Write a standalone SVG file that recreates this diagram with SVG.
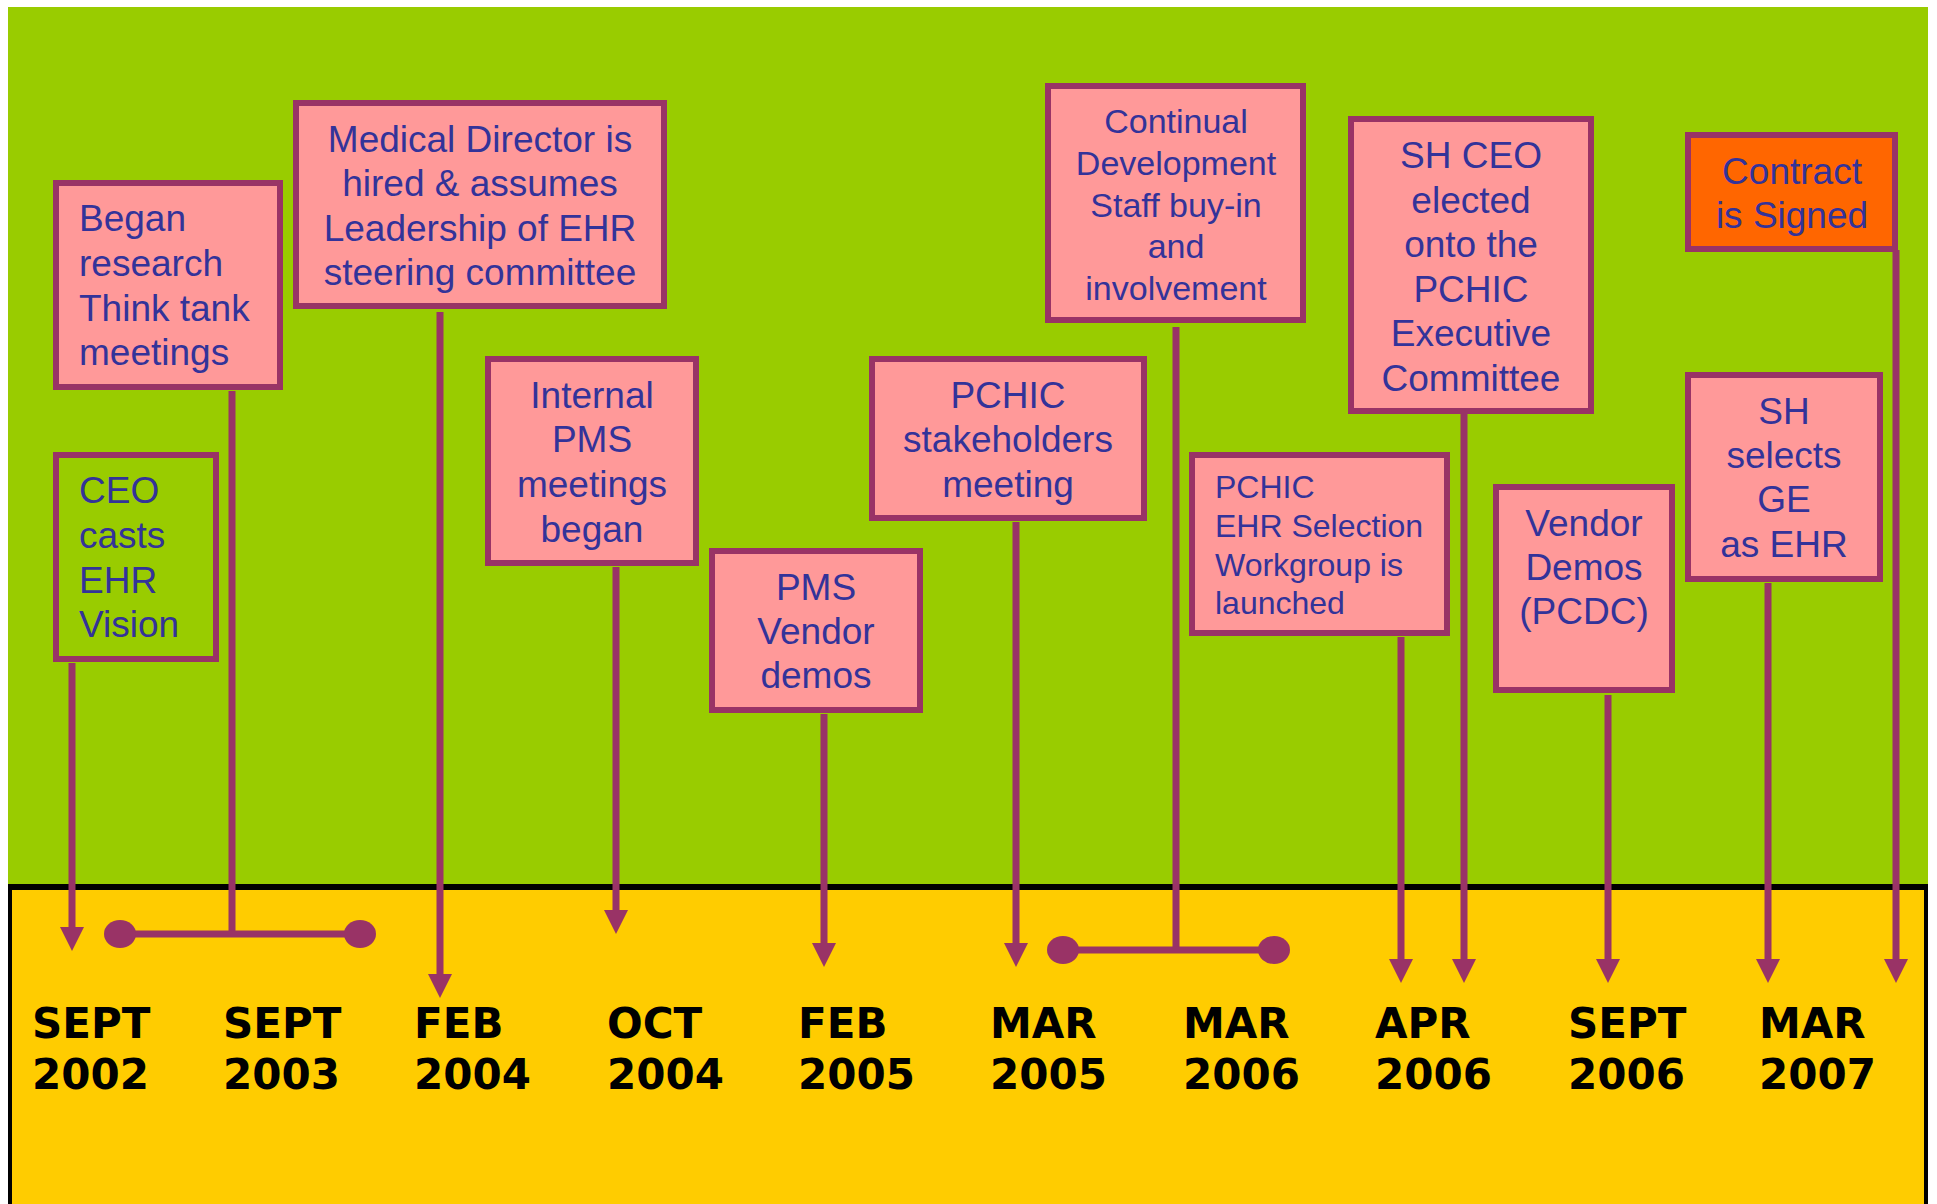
<svg xmlns="http://www.w3.org/2000/svg" width="1937" height="1204" viewBox="0 0 1937 1204">
<defs>
<style>
.box{fill:#FF9999;stroke:#993366;stroke-width:6}
.boxg{fill:none;stroke:#993366;stroke-width:6}
.boxo{fill:#FF6600;stroke:#993366;stroke-width:6}
.t{font-family:"Liberation Sans",Arial,sans-serif;font-size:37px;fill:#333399}
.c{text-anchor:middle}
.s34{font-size:34px}
.s32{font-size:32px}
.ln{stroke:#993366;stroke-width:7;fill:none}
.arr{stroke:#993366;stroke-width:7;fill:none;marker-end:url(#ah)}
.dot{fill:#993366}
.d{font-family:"DejaVu Sans",Verdana,sans-serif;font-weight:bold;font-size:42px;fill:#000}
</style>
<marker id="ah" markerUnits="userSpaceOnUse" markerWidth="24" markerHeight="24" refX="0" refY="12" orient="auto">
<path d="M0,0 L24,12 L0,24 z" fill="#993366"/>
</marker>
</defs>
<rect x="0" y="0" width="1937" height="1204" fill="#FFFFFF"/>
<rect x="8" y="7" width="1920" height="880" fill="#99CC00"/>
<rect x="8" y="887" width="1920" height="317" fill="#FFCC00"/>
<g id="frame" stroke="#000" fill="none">
<line x1="8" y1="887" x2="1928" y2="887" stroke-width="6"/>
<line x1="10" y1="887" x2="10" y2="1204" stroke-width="4"/>
<line x1="1926" y1="887" x2="1926" y2="1204" stroke-width="4"/>
</g>

<g id="connectors">
<path class="arr" d="M72,663 V927"/>
<path class="ln" d="M232,391 V934"/>
<path class="ln" d="M120,934 H360"/>
<ellipse class="dot" cx="120" cy="934" rx="16" ry="14"/>
<ellipse class="dot" cx="360" cy="934" rx="16" ry="14"/>
<path class="arr" d="M440,312 V974"/>
<path class="arr" d="M616,567 V910"/>
<path class="arr" d="M824,714 V943"/>
<path class="arr" d="M1016,522 V943"/>
<path class="ln" d="M1176,327 V950"/>
<path class="ln" d="M1063,950 H1274"/>
<ellipse class="dot" cx="1063" cy="950" rx="16" ry="14"/>
<ellipse class="dot" cx="1274" cy="950" rx="16" ry="14"/>
<path class="arr" d="M1401,637 V959"/>
<path class="arr" d="M1464,414 V959"/>
<path class="arr" d="M1608,695 V959"/>
<path class="arr" d="M1768,583 V959"/>
<path class="arr" d="M1896,250 V959"/>
</g>

<g id="n-began-research">
<rect class="box" x="56" y="183" width="224" height="204"/>
<text class="t"><tspan x="79" y="231">Began</tspan><tspan x="79" y="276">research</tspan><tspan x="79" y="321">Think tank</tspan><tspan x="79" y="365">meetings</tspan></text>
</g>
<g id="n-ceo-vision">
<rect class="boxg" x="56" y="455" width="160" height="204"/>
<text class="t"><tspan x="79" y="503">CEO</tspan><tspan x="79" y="548">casts</tspan><tspan x="79" y="593">EHR</tspan><tspan x="79" y="637">Vision</tspan></text>
</g>
<g id="n-medical-director">
<rect class="box" x="296" y="103" width="368" height="203"/>
<text class="t c"><tspan x="480" y="152">Medical Director is</tspan><tspan x="480" y="196">hired &amp; assumes</tspan><tspan x="480" y="241">Leadership of EHR</tspan><tspan x="480" y="285">steering committee</tspan></text>
</g>
<g id="n-internal-pms">
<rect class="box" x="488" y="359" width="208" height="204"/>
<text class="t c"><tspan x="592" y="408">Internal</tspan><tspan x="592" y="452">PMS</tspan><tspan x="592" y="497">meetings</tspan><tspan x="592" y="542">began</tspan></text>
</g>
<g id="n-pms-vendor">
<rect class="box" x="712" y="551" width="208" height="159"/>
<text class="t c"><tspan x="816" y="600">PMS</tspan><tspan x="816" y="644">Vendor</tspan><tspan x="816" y="688">demos</tspan></text>
</g>
<g id="n-stakeholders">
<rect class="box" x="872" y="359" width="272" height="159"/>
<text class="t c"><tspan x="1008" y="408">PCHIC</tspan><tspan x="1008" y="452">stakeholders</tspan><tspan x="1008" y="497">meeting</tspan></text>
</g>
<g id="n-continual">
<rect class="box" x="1048" y="86" width="255" height="234"/>
<text class="t c s34"><tspan x="1176" y="133">Continual</tspan><tspan x="1176" y="175">Development</tspan><tspan x="1176" y="217">Staff buy-in</tspan><tspan x="1176" y="258">and</tspan><tspan x="1176" y="300">involvement</tspan></text>
</g>
<g id="n-ehr-selection">
<rect class="box" x="1192" y="455" width="255" height="178"/>
<text class="t s32"><tspan x="1215" y="498">PCHIC</tspan><tspan x="1215" y="537">EHR Selection</tspan><tspan x="1215" y="576">Workgroup is</tspan><tspan x="1215" y="614">launched</tspan></text>
</g>
<g id="n-sh-ceo">
<rect class="box" x="1351" y="119" width="240" height="292"/>
<text class="t c"><tspan x="1471" y="168">SH CEO</tspan><tspan x="1471" y="213">elected</tspan><tspan x="1471" y="257">onto the</tspan><tspan x="1471" y="302">PCHIC</tspan><tspan x="1471" y="346">Executive</tspan><tspan x="1471" y="391">Committee</tspan></text>
</g>
<g id="n-vendor-demos">
<rect class="box" x="1496" y="487" width="176" height="203"/>
<text class="t c"><tspan x="1584" y="536">Vendor</tspan><tspan x="1584" y="580">Demos</tspan><tspan x="1584" y="624">(PCDC)</tspan></text>
</g>
<g id="n-contract">
<rect class="boxo" x="1688" y="135" width="207" height="114"/>
<text class="t c"><tspan x="1792" y="184">Contract</tspan><tspan x="1792" y="228">is Signed</tspan></text>
</g>
<g id="n-sh-selects">
<rect class="box" x="1688" y="375" width="192" height="204"/>
<text class="t c"><tspan x="1784" y="424">SH</tspan><tspan x="1784" y="468">selects</tspan><tspan x="1784" y="512">GE</tspan><tspan x="1784" y="557">as EHR</tspan></text>
</g>

<g id="dates">
<text class="d"><tspan x="32" y="1038">SEPT</tspan><tspan x="32" y="1089">2002</tspan></text>
<text class="d"><tspan x="223" y="1038">SEPT</tspan><tspan x="223" y="1089">2003</tspan></text>
<text class="d"><tspan x="414" y="1038">FEB</tspan><tspan x="414" y="1089">2004</tspan></text>
<text class="d"><tspan x="607" y="1038">OCT</tspan><tspan x="607" y="1089">2004</tspan></text>
<text class="d"><tspan x="798" y="1038">FEB</tspan><tspan x="798" y="1089">2005</tspan></text>
<text class="d"><tspan x="990" y="1038">MAR</tspan><tspan x="990" y="1089">2005</tspan></text>
<text class="d"><tspan x="1183" y="1038">MAR</tspan><tspan x="1183" y="1089">2006</tspan></text>
<text class="d"><tspan x="1375" y="1038">APR</tspan><tspan x="1375" y="1089">2006</tspan></text>
<text class="d"><tspan x="1568" y="1038">SEPT</tspan><tspan x="1568" y="1089">2006</tspan></text>
<text class="d"><tspan x="1759" y="1038">MAR</tspan><tspan x="1759" y="1089">2007</tspan></text>
</g>
</svg>
